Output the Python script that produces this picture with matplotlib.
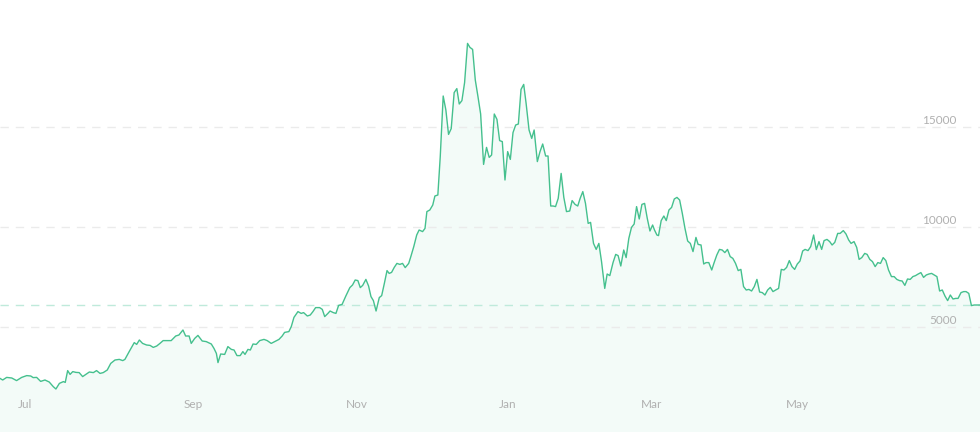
import matplotlib.pyplot as plt
import matplotlib.transforms as mtransforms

# Data: day offset from start of range (about Jun 25 2017) and price in USD
days = [
    0.0, 1.0, 2.5, 4.4, 6.2, 8.1, 10.0, 11.5, 12.4, 13.7, 15.2, 16.8, 18.4, 19.9, 20.9,
    22.2, 23.7, 24.4, 25.3, 26.2, 27.2, 28.4, 29.6, 30.9, 32.1, 33.4, 34.9, 36.1, 37.4,
    38.6, 40.1, 41.4, 43.0, 44.6, 45.9, 46.7, 48.3, 50.2, 51.1, 52.1, 53.3, 54.8, 56.1,
    57.3, 58.6, 59.8, 61.0, 64.0, 65.7, 66.9, 68.4, 69.4, 70.7, 71.5, 72.8, 74.0, 75.6,
    77.1, 79.0, 80.0, 80.9, 81.5, 82.5, 84.0, 85.2, 86.5, 87.5, 88.6, 89.8, 90.8, 91.6,
    92.7, 93.6, 94.6, 95.8, 97.1, 98.7, 99.9, 101.4, 102.7, 104.3, 105.5, 106.4, 108.0,
    108.9, 109.9, 111.4, 112.6, 113.5, 114.9, 116.0, 117.0, 118.0, 119.5, 120.5, 121.4,
    122.6, 123.4, 124.6, 125.6, 126.6, 127.9, 129.3, 130.8, 131.8, 132.8, 133.8, 134.7,
    135.6, 136.8, 137.8, 138.7, 139.6, 140.6, 141.8, 142.7, 143.7, 144.7, 145.5, 146.4,
    147.4, 148.4, 149.5, 150.5, 151.5, 152.8, 153.6, 154.7, 155.8, 156.7, 158.0, 158.9,
    159.6, 160.7, 161.8, 162.6, 163.7, 164.6, 165.7, 166.7, 167.7, 168.7, 169.8, 170.8,
    171.7, 172.7, 173.7, 174.8, 175.7, 176.7, 177.7, 178.7, 179.7, 180.8, 181.9, 182.9,
    183.8, 184.8, 185.8, 186.8, 187.8, 188.8, 189.8, 190.8, 191.8, 192.8, 193.8, 194.8,
    195.8, 196.7, 197.8, 198.8, 199.7, 200.9, 201.9, 202.9, 204.0, 204.9, 205.9, 206.8,
    207.7, 208.7, 209.8, 210.8, 211.8, 213.0, 213.9, 215.0, 216.0, 216.9, 217.9, 218.9,
    219.9, 220.8, 221.9, 222.9, 223.9, 224.9, 226.1, 227.0, 228.0, 229.2, 230.2, 231.1,
    232.1, 233.2, 234.1, 235.1, 236.1, 237.1, 238.0, 239.0, 240.0, 241.0, 242.0, 243.0,
    244.0, 244.7, 245.6, 246.2, 247.2, 248.2, 249.1, 250.1, 251.1, 252.1, 253.1, 254.1,
    255.1, 256.1, 257.1, 258.1, 259.1, 260.2, 261.0, 262.1, 263.1, 264.0, 265.0, 266.1,
    267.0, 268.0, 269.0, 270.0, 271.0, 272.0, 273.0, 274.0, 275.0, 276.0, 277.0, 278.0,
    279.0, 280.0, 281.0, 282.0, 283.0, 284.0, 285.0, 286.0, 287.0, 288.0, 289.0, 290.0,
    291.1, 292.1, 293.1, 294.1, 295.1, 296.1, 297.1, 298.1, 299.1, 300.1, 301.0, 302.1,
    303.1, 304.2, 305.2, 306.2, 307.2, 308.1, 309.2, 310.2, 311.1, 312.1, 313.2, 314.1,
    315.3, 316.3, 317.3, 318.2, 319.3, 320.3, 321.2, 322.2, 323.3, 324.2, 325.2, 326.2,
    327.2, 328.2, 329.2, 330.2, 331.2, 332.2, 333.3, 334.3, 335.3, 336.3, 337.3, 338.3,
    339.3, 340.3, 341.3, 342.3, 343.3, 344.3, 345.3, 346.3, 347.3, 348.3, 349.3, 350.3,
    351.3, 352.3, 353.3, 354.3, 355.3, 356.3, 357.3, 358.2, 359.3, 360.3, 361.2, 362.2,
    363.2, 364.2, 366.4,
]
prices = [
    2430, 2350, 2480, 2450, 2320, 2480, 2570, 2550, 2470, 2480, 2280, 2350, 2250, 2020, 1900,
    2180, 2270, 2230, 2820, 2630, 2770, 2730, 2720, 2520, 2630, 2750, 2720, 2820, 2680,
    2720, 2850, 3180, 3350, 3380, 3320, 3380, 3770, 4220, 4130, 4350, 4180, 4100, 4080,
    3980, 4050, 4180, 4320, 4320, 4550, 4600, 4850, 4550, 4550, 4180, 4430, 4580, 4300,
    4270, 4150, 3930, 3680, 3220, 3650, 3630, 4020, 3880, 3850, 3570, 3570, 3770, 3630,
    3880, 3850, 4150, 4130, 4320, 4380, 4320, 4180, 4270, 4380, 4550, 4730, 4770,
    5020, 5480, 5770, 5680, 5720, 5550, 5600, 5770, 5970, 5970, 5880, 5520,
    5680, 5800, 5720, 5680, 6080, 6130, 6550, 6970, 7100, 7350, 7320, 6970,
    7080, 7380, 7050, 6520, 6320, 5800, 6470, 6570, 7180, 7820, 7680, 7730,
    7980, 8180, 8130, 8180, 7970, 8180, 8520, 9020, 9600, 9850, 9770, 9930,
    10770, 10850, 11100, 11550, 11600, 13520, 16550, 15850, 14630, 14920, 16720, 16920,
    16150, 16320, 17220, 19180, 18980, 18880, 17350, 16520, 15650, 13130, 13980, 13480,
    13600, 15650, 15380, 14320, 14270, 12350, 13770, 13380, 14720, 15100, 15150, 16880,
    17130, 16180, 14850, 14430, 14850, 13270, 13770, 14150, 13550, 13550, 11050, 11050,
    11020, 11430, 12680, 11480, 10770, 10800, 11320, 11130, 11050, 11430, 11770, 11180,
    10180, 10230, 9180, 8880, 9180, 8270, 6930, 7650, 7570, 8220, 8630, 8570,
    8050, 8850, 8470, 9430, 9980, 10150, 11020, 10400, 11130, 11180, 10430, 9800,
    10100, 9850, 9600, 9570, 10320, 10550, 10320, 10850, 10980, 11400, 11480, 11350,
    10680, 9930, 9300, 9180, 8770, 9480, 9130, 9100, 8150, 8220, 8220, 7850,
    8220, 8600, 8880, 8850, 8720, 8880, 8520, 8430, 8180, 7820, 7880, 7020,
    6850, 6880, 6800, 7020, 7380, 6750, 6720, 6600, 6850, 6980, 6770, 6850,
    6930, 7880, 7850, 7980, 8320, 8020, 7880, 8150, 8300, 8800, 8880, 8820,
    9020, 9600, 8870, 9270, 8880, 9320, 9380, 9270, 9100, 9230, 9680, 9680,
    9820, 9650, 9350, 9180, 9270, 8980, 8380, 8470, 8680, 8630, 8380, 8270,
    8020, 8220, 8180, 8470, 8320, 7850, 7520, 7520, 7380, 7320, 7300, 7080,
    7400, 7380, 7520, 7570, 7650, 7720, 7480, 7600, 7650, 7680, 7600, 7520,
    6800, 6850, 6550, 6320, 6600, 6400, 6430, 6430, 6720, 6770, 6770, 6680,
    6070, 6100, 6100,
]

grid_values = [5000, 10000, 15000]
month_labels = ['Jul', 'Sep', 'Nov', 'Jan', 'Mar', 'May']
month_days = [9.2, 72.1, 133.5, 189.9, 243.7, 298.3]

line_color = '#45c08e'
fill_color = '#f3fbf8'
label_color = '#b0b0b0'

fig = plt.figure(figsize=(9.8, 4.32), dpi=100)
ax = fig.add_axes([0, 0, 1, 1])
ax.set_xlim(days[0], days[-1])
ax.set_ylim(-250, 21350)
ax.axis('off')

bottom = ax.get_ylim()[0]
ax.fill_between(days, prices, bottom, color=fill_color, lw=0, zorder=1)

# dashed grid lines with the value sitting just above each, at the right side
lbl_trans = mtransforms.blended_transform_factory(ax.transAxes, ax.transData)
for v in grid_values:
    ax.axhline(v, color='#ebebeb', lw=1, dashes=(6, 5), zorder=2)
    ax.text(0.976, v + 150, str(v), transform=lbl_trans, ha='right', va='baseline',
            fontsize=8.5, family='Lato', color=label_color)

# last price marker line
ax.axhline(prices[-1], color='#bfeadb', lw=1, dashes=(6, 5), zorder=2)

ax.plot(days, prices, color=line_color, lw=1.0, zorder=3)

mon_trans = mtransforms.blended_transform_factory(ax.transData, ax.transAxes)
for d, m in zip(month_days, month_labels):
    ax.text(d, 0.0625, m, transform=mon_trans, ha='center', va='center',
            fontsize=8.5, family='Lato', color=label_color)

fig.savefig('out.png', dpi=100, facecolor='white')
